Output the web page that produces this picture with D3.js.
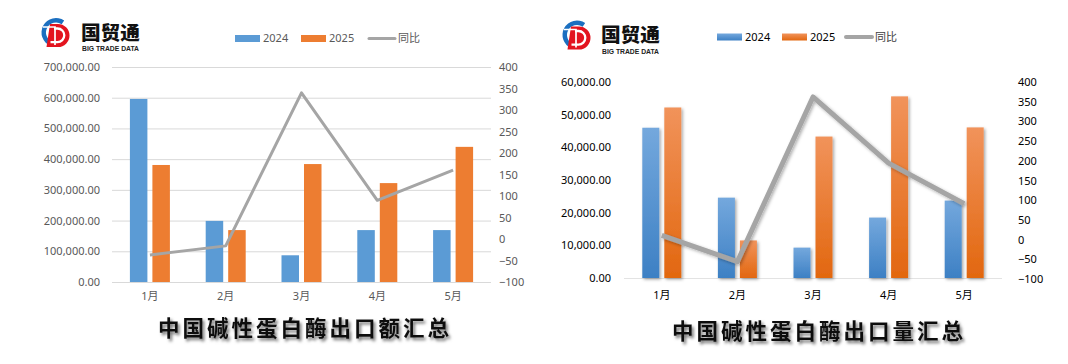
<!DOCTYPE html>
<html><head><meta charset="utf-8">
<script src="https://cdn.jsdelivr.net/npm/d3@7"></script>
<style>
html,body{margin:0;padding:0;background:#fff;}
svg{display:block;}
</style></head>
<body>
<svg id="c" width="1068" height="364"></svg>
<script>
// ---- data ----
const months = ['1月','2月','3月','4月','5月'];
const seriesNames = ['2024','2025','同比'];
const amount2024 = [596000, 199000, 87000, 169000, 169000];
const amount2025 = [381000, 169000, 384000, 322000, 440000];
const amountYoY  = [-37, -16, 340, 90, 160];
const qty2024 = [46000, 24600, 9300, 18500, 23700];
const qty2025 = [52200, 11500, 43300, 55600, 46100];
const qtyYoY  = [11, -56, 362, 194, 91];
const amountTicks = [0,100000,200000,300000,400000,500000,600000,700000];
const qtyTicks = [0,10000,20000,30000,40000,50000,60000];
const yoyTicks = [-100,-50,0,50,100,150,200,250,300,350,400];
const titles = ['中国碱性蛋白酶出口额汇总','中国碱性蛋白酶出口量汇总'];

const svg = d3.select('#c');
const defs = svg.append('defs');
const FONT = "'Noto Sans','Noto Sans CJK SC',sans-serif";

// filters
const fTitle = defs.append('filter').attr('id','tshadow').attr('x','-10%').attr('y','-30%').attr('width','130%').attr('height','180%');
fTitle.append('feDropShadow').attr('dx',2).attr('dy',2.5).attr('stdDeviation',1.6).attr('flood-color','#000').attr('flood-opacity',0.55);
const fBar = defs.append('filter').attr('id','bshadow').attr('x','-50%').attr('y','-10%').attr('width','200%').attr('height','130%');
fBar.append('feDropShadow').attr('dx',1.5).attr('dy',1.5).attr('stdDeviation',1.5).attr('flood-color','#000').attr('flood-opacity',0.35);
const fLine = defs.append('filter').attr('id','lshadow').attr('x','-10%').attr('y','-10%').attr('width','130%').attr('height','130%');
fLine.append('feDropShadow').attr('dx',1.5).attr('dy',1.5).attr('stdDeviation',1.5).attr('flood-color','#000').attr('flood-opacity',0.3);

function grad(id, top, bottom){
  const g = defs.append('linearGradient').attr('id',id).attr('x1',0).attr('y1',0).attr('x2',0).attr('y2',1);
  g.append('stop').attr('offset','0%').attr('stop-color',top);
  g.append('stop').attr('offset','100%').attr('stop-color',bottom);
}
grad('gBlue','#74A8DD','#3D80C4');
grad('gOrange','#F1935B','#E2670F');

function logo(cx, cy, tx, ty){
  const e = svg.append('g').attr('transform',`translate(${cx},${cy})`);
  e.append('path').attr('d', d3.arc()({innerRadius:10, outerRadius:14.5, startAngle:-2.75, endAngle:0.6})).attr('fill','#1B6FC0');
  e.append('path').attr('d','M-6,-8.5 L2,-8.5 A11.5,11.5 0 0 1 2,14.5 L-9.5,14.5 Z').attr('fill','#E3141F');
  e.append('path').attr('d','M-2,-4 L1.5,-4 A6.8,6.8 0 0 1 1.5,9.6 L-5.5,9.6').attr('fill','none').attr('stroke','#fff').attr('stroke-width',2.3);
  e.append('path').attr('d','M-13,-5.5 L-1,-5.5 L-1,12.5').attr('fill','none').attr('stroke','#fff').attr('stroke-width',1.7);
  svg.append('text').attr('x',tx).attr('y',ty).text('国贸通')
    .attr('font-family',"'Noto Sans CJK SC',sans-serif").attr('font-weight',900).attr('font-size',19).attr('fill','#111')
    .attr('textLength',59).attr('lengthAdjust','spacingAndGlyphs');
  svg.append('text').attr('x',tx+1).attr('y',ty+11.6).text('BIG TRADE DATA')
    .attr('font-family',"'Liberation Sans',sans-serif").attr('font-weight',700).attr('font-size',6.4).attr('fill','#222')
    .attr('textLength',57).attr('lengthAdjust','spacingAndGlyphs');
}

function chart(cfg){
  const g = svg.append('g');
  const x = d3.scaleBand().domain(months).range([cfg.x0, cfg.x1]);
  const y = d3.scaleLinear().domain([0, cfg.ymax]).range([cfg.yb, cfg.yt]);
  const y2 = d3.scaleLinear().domain([-100, 400]).range([cfg.yb2, cfg.yt2]);
  const bw = cfg.bw, gap = cfg.gap;

  // left axis
  const la = d3.axisLeft(y).tickValues(cfg.ticks).tickFormat(d3.format(',.2f')).tickSize(cfg.grid ? -(cfg.x1-cfg.x0) : 0).tickPadding(0);
  const lag = g.append('g').attr('transform',`translate(${cfg.x0},0)`).call(la);
  lag.select('.domain').remove();
  lag.selectAll('line').attr('stroke','#D9D9D9').attr('stroke-width',1);
  lag.selectAll('text').attr('x',cfg.lx - cfg.x0).attr('font-family',FONT).attr('font-size',cfg.fs).attr('fill',cfg.tc);
  if(!cfg.grid){
    g.append('line').attr('x1',cfg.x0).attr('x2',cfg.x1).attr('y1',y(0)+0.5).attr('y2',y(0)+0.5).attr('stroke','#E3E3E3');
  }
  // right axis
  const ra = d3.axisRight(y2).tickValues(yoyTicks).tickFormat(d3.format('d')).tickSize(0).tickPadding(0);
  const rag = g.append('g').attr('transform',`translate(${cfg.rx},0)`).call(ra);
  rag.select('.domain').remove();
  rag.selectAll('text').attr('font-family',FONT).attr('font-size',cfg.fs).attr('fill',cfg.tc);
  // bottom axis
  const ba = d3.axisBottom(x).tickSize(0).tickPadding(0);
  const bag = g.append('g').attr('transform',`translate(0,${cfg.xly})`).call(ba);
  bag.select('.domain').remove();
  bag.selectAll('text').attr('font-family',FONT).attr('font-size',cfg.fs).attr('fill',cfg.tc);

  // bars
  const bars = g.append('g').attr('filter', cfg.fancy ? 'url(#bshadow)' : null);
  bars.selectAll('.b1').data(cfg.s1).join('rect')
    .attr('x',(d,i)=> x(months[i]) + x.bandwidth()/2 - gap/2 - bw)
    .attr('y',d=>y(d)).attr('width',bw).attr('height',d=>y(0)-y(d))
    .attr('fill', cfg.fancy ? 'url(#gBlue)' : '#5B9BD5');
  bars.selectAll('.b2').data(cfg.s2).join('rect')
    .attr('x',(d,i)=> x(months[i]) + x.bandwidth()/2 + gap/2)
    .attr('y',d=>y(d)).attr('width',bw).attr('height',d=>y(0)-y(d))
    .attr('fill', cfg.fancy ? 'url(#gOrange)' : '#ED7D31');
  // line
  const line = d3.line().x((d,i)=> x(months[i]) + x.bandwidth()/2).y(d=>y2(d));
  g.append('path').datum(cfg.s3).attr('d',line).attr('fill','none')
    .attr('stroke','#A5A5A5').attr('stroke-width',cfg.lw).attr('stroke-linejoin','round')
    .attr('filter', cfg.fancy ? 'url(#lshadow)' : null);

  // legend
  const lg = g.append('g').attr('font-family',FONT).attr('font-size',cfg.fs).attr('fill',cfg.legc);
  const L = cfg.leg;
  lg.append('rect').attr('x',L[0]).attr('y',cfg.legy-3.5).attr('width',25).attr('height',7).attr('fill', cfg.fancy ? 'url(#gBlue)' : '#5B9BD5');
  lg.append('text').attr('x',L[0]+28).attr('y',cfg.legy).attr('dy','0.36em').text(seriesNames[0]);
  lg.append('rect').attr('x',L[1]).attr('y',cfg.legy-3.5).attr('width',25).attr('height',7).attr('fill', cfg.fancy ? 'url(#gOrange)' : '#ED7D31');
  lg.append('text').attr('x',L[1]+28).attr('y',cfg.legy).attr('dy','0.36em').text(seriesNames[1]);
  lg.append('line').attr('x1',L[2]).attr('x2',L[2]+26).attr('y1',cfg.legy).attr('y2',cfg.legy).attr('stroke','#A5A5A5').attr('stroke-width',cfg.fancy?4:3).attr('stroke-linecap','round');
  lg.append('text').attr('x',L[2]+29).attr('y',cfg.legy).attr('dy','0.36em').text(seriesNames[2]).attr('fill', cfg.fancy ? '#404040' : cfg.legc);

  // title
  g.append('text').attr('x',cfg.tx).attr('y',cfg.ty).attr('text-anchor','middle')
    .attr('font-family',"'Noto Sans CJK SC',sans-serif").attr('font-weight',700).attr('font-size',21.5)
    .attr('letter-spacing',3).attr('fill','#111').attr('filter','url(#tshadow)').text(cfg.title);
}

logo(56, 32.5, 81, 39.5);
logo(577, 35, 601, 42);

chart({x0:112, x1:491, yb:282, yt:67, yb2:282, yt2:67, ymax:700000, ticks:amountTicks,
  grid:true, lx:100, rx:499, xly:292, fs:11, tc:'#595959', legc:'#595959',
  bw:17.5, gap:5, lw:3, fancy:false, s1:amount2024, s2:amount2025, s3:amountYoY,
  leg:[235,301,369], legy:38.5, tx:305, ty:336, title:titles[0]});

chart({x0:624, x1:1002, yb:278, yt:82, yb2:279, yt2:82, ymax:60000, ticks:qtyTicks,
  grid:false, lx:611, rx:1018, xly:291, fs:11, tc:'#000', legc:'#000',
  bw:17, gap:5, lw:5, fancy:true, s1:qty2024, s2:qty2025, s3:qtyYoY,
  leg:[717,782,846], legy:37, tx:819, ty:339, title:titles[1]});
</script>
</body></html>
